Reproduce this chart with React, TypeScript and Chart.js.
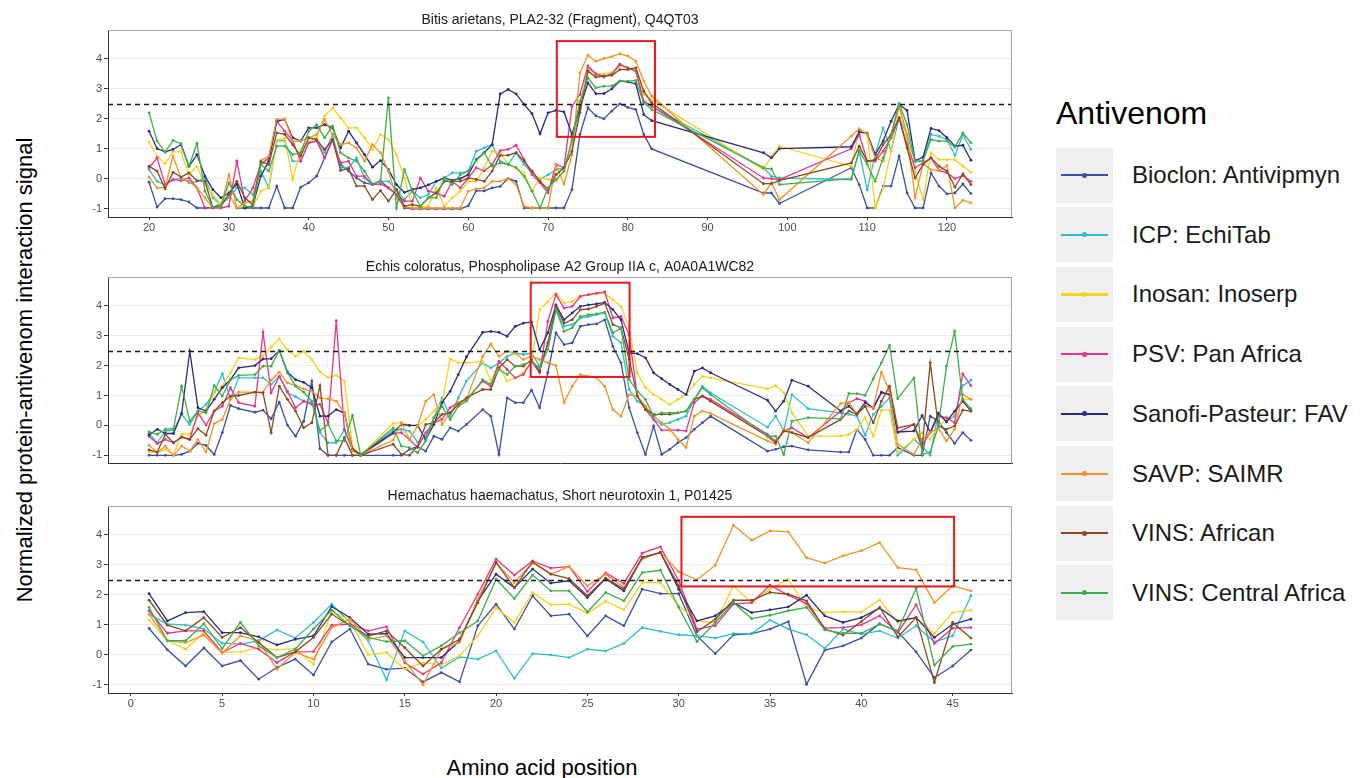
import React, { useEffect, useRef } from 'react';
import { Chart, registerables } from 'chart.js';

Chart.register(...registerables);

const FONT = '"Liberation Sans", Arial, Helvetica, sans-serif';

const ANTIVENOMS = ['Bioclon: Antivipmyn', 'ICP: EchiTab', 'Inosan: Inoserp', 'PSV: Pan Africa', 'Sanofi-Pasteur: FAV', 'SAVP: SAIMR', 'VINS: African', 'VINS: Central Africa'];
const COLORS = ['#3A4FA6', '#2DBFCB', '#F6D21C', '#E8338C', '#2A2B80', '#F39326', '#8B4A1E', '#3FAE48'];

const THRESHOLD = 2.5;
const Y_MIN = -1.27;
const Y_MAX = 4.96;
const Y_TICKS = [-1, 0, 1, 2, 3, 4];

// ---------------- Panel 1 ----------------
const P1_TITLE = 'Bitis arietans, PLA2-32 (Fragment), Q4QT03';
const P1_XTICKS = [20, 30, 40, 50, 60, 70, 80, 90, 100, 110, 120];
const P1_XRANGE = [14.85, 128.15];
const P1_BOX = [71.1, 83.4, 1.4, 4.59];
const P1_POS = [20, 21, 22, 23, 24, 25, 26, 27, 28, 29, 30, 31, 32, 33, 34, 35, 36, 37, 38, 39, 40, 41, 42, 43, 44, 45, 46, 47, 48, 49, 50, 51, 52, 53, 54, 55, 56, 57, 58, 59, 60, 61, 62, 63, 64, 65, 66, 67, 68, 69, 70, 71, 72, 73, 74, 75, 76, 77, 78, 79, 80, 81, 82, 83,
  97, 98, 99,
  108, 109, 110, 111, 112, 113, 114, 115, 116, 117, 118, 119, 120, 121, 122, 123];
const P1_BIOCLON = [-0.11, -0.94, -0.66, -0.66, -0.69, -0.77, -0.97, -0.97, -0.96, -0.83,
  -0.52, -0.97, -0.97, -0.97, -0.97, -0.97, -0.24, -0.97, -0.97, -0.28,
  -0.13, 0.09, 0.7, 1.31, 0.48, 0.26, 0.03, -0.13, -0.19, -0.06,
  -0.3, -0.52, -0.97, -1, -1, -1, -1, -1, -1, -1,
  -0.9, -0.4, -0.4, -0.3, -0.25, 0.01, -0.08, -0.97, -0.97, -0.97,
  -0.97, -0.97, -0.97, -0.36, 1.48, 2.37, 2.1, 2.0, 2.26, 2.5,
  2.38, 2.31, 1.48, 1.0,
  -0.47, -0.47, -0.82,
  0.37, -0.19, -0.97, -0.97, -0.24, -0.24, 0.76, -0.47, -0.97, -0.97, 0.2, -0.24, -0.5, -0.47, -0.17, -0.49];
const P1_ICP = [0.31, -0.08, -0.19, -0.04, 0.03, -0.13, -0.08, 0.03, -0.63, -0.86,
  -0.63, -0.3, -0.3, -0.52, 0.26, -0.3, 1.26, 1.28, 0.59, 0.59,
  1.2, 1.26, 0.87, 1.48, 0.37, 0.37, 0.7, 0.03, -0.19, -0.08,
  -0.08, -0.36, -0.69, -0.41, -0.63, -0.52, -0.08, 0.03, 0.2, 0.2,
  0.26, 0.92, 1.03, 1.14, 0.59, 0.48, 0.87, 0.48, 0.2, -0.02,
  0.14, 0.31, 0.37, 1.2, 2.3, 3.7, 3.48, 3.39, 3.53, 3.83,
  3.7, 3.59, 2.53, 2.42,
  0.37, 0.09, 0.03,
  -0.02, 0.92, -0.36, 0.81, 1.7, 0.94, 2.03, 1.48, 0.57, 0.59, 1.48, 1.42, 1.31, 0.78, 1.48, 0.98];
const P1_INOSAN = [1.22, 0.76, 0.5, 0.9, 0.9, 0.14, 0.42, -0.19, -0.52, -0.86,
  -0.52, -0.97, -0.91, -0.94, -0.41, -0.28, 1.3, 1.35, -0.02, 1.0,
  1.2, 1.4, 2.09, 2.37, 2.03, 1.7, 1.7, 1.37, 0.98, 1.48,
  1.31, 0.81, 0.03, -0.97, -0.94, -0.91, -0.3, -0.91, -0.63, -0.41,
  -0.08, -0.08, 0.37, 0.92, 0.87, 0.48, 0.37, 0.2, -0.41, 0.03,
  -0.02, -0.08, 0.26, 1.26, 2.48, 3.64, 3.5, 3.5, 3.55, 3.76,
  3.7, 3.61, 2.81, 2.64,
  0.31, 0.75, 1.09,
  0.42, 1.64, 1.53, -0.97, -0.3, 0.92, 2.42, 1.37, 0.26, -0.69, 0.87, 0.64, 0.64, 0.64, 0.42, 0.22];
const P1_PSV = [0.37, 0.7, -0.19, -0.02, -0.06, 0.03, -0.3, -0.97, -0.97, -0.97,
  -0.91, 0.59, -0.74, -0.3, 0.48, 0.7, 1.92, 1.59, 1.26, 0.59,
  1.2, 1.26, 0.7, 1.31, 0.53, 0.59, 0.09, 0.09, -0.19, -0.17,
  -0.3, -0.52, -0.74, -0.74, 0.03, -0.41, -0.47, -0.58, -0.08, -0.3,
  0.03, 0.37, 0.26, 0.48, 0.94, 0.98, 1.12, 0.64, 0.14, -0.13,
  -0.47, 0.48, 0.37, 2.42, 2.81, 3.76, 3.5, 3.42, 3.48, 3.81,
  3.7, 3.59, 2.59, 2.42,
  0.03, 0.01, -0.02,
  1.0, 1.48, 0.59, 0.59, 0.92, 1.37, 2.03, 1.14, 0.37, 0.53, 0.7, 0.28, 0.2, 0.01, 0.11, -0.08];
const P1_SANOFI = [1.59, 1.01, 0.9, 0.98, 1.14, 0.42, 0.81, 0.09, -0.36, -0.63,
  -0.47, -0.17, -0.97, -0.91, 0.09, 0.59, 1.92, 1.98, 1.37, 1.26,
  1.7, 1.7, 1.81, 1.7, 1.03, 1.59, 1.2, 0.81, 0.39, 0.61,
  0.31, -0.19, -0.45, -0.35, -0.3, -0.2, -0.08, 0.03, -0.05, 0.01,
  0.14, 0.64, 0.87, 1.14, 2.83, 2.98, 2.83, 2.48, 2.17, 1.5,
  2.2, 2.28, 2.23, 1.48, 2.37, 3.2, 2.84, 2.84, 3.0, 3.26,
  3.23, 3.17, 2.14, 1.94,
  0.87, 0.7, 1.01,
  1.07, 1.57, 1.51, 0.81, 1.26, 1.92, 2.48, 2.28, 0.61, 0.72, 1.68, 1.61, 1.37, 1.09, 1.12, 0.62];
const P1_SAVP = [0.06, -0.3, -0.28, 0.76, 0.03, -0.08, -0.3, -0.63, -0.97, -0.94,
  0.14, -0.97, -0.8, -0.74, 0.61, 0.76, 1.98, 2.0, 1.26, 1.26,
  1.37, 1.48, 1.98, 1.48, 1.14, 1.2, 1.03, 0.59, 1.14, 0.87,
  0.26, -0.63, -0.94, -0.97, -0.97, -0.97, -0.97, -0.97, -0.97, -0.97,
  -0.41, -0.33, -0.3, -0.08, -0.08, 0.01, -0.19, -0.91, -0.97, -0.97,
  -0.97, 0.48, -0.17, 0.81, 3.53, 4.12, 3.92, 4.01, 4.07, 4.17,
  4.09, 3.92, 3.26, 2.76,
  -0.52, -0.13, -0.69,
  1.42, 1.67, 1.48, 0.7, 0.59, 1.48, 2.42, 1.48, -0.63, 0.5, 0.31, 0.28, 0.44, -0.97, -0.71, -0.8];
const P1_VINS_AF = [0.42, 0.26, -0.33, 0.22, 0.06, 0.2, -0.06, -0.08, -0.97, -0.91,
  -0.52, -0.08, -0.63, -0.86, 0.57, 0.48, 1.53, 1.48, 1.14, 0.76,
  1.37, 1.31, 0.98, 1.31, 0.28, 0.34, -0.24, -0.24, -0.69, -0.39,
  -0.74, -0.36, -0.91, -0.86, -0.91, -0.63, -0.47, -0.08, -0.08, -0.08,
  0.03, -0.02, -0.08, 0.26, 0.78, 0.79, 0.87, 0.59, 0.26, -0.08,
  -0.36, 0.14, 0.37, 0.92, 2.2, 3.59, 3.39, 3.42, 3.45, 3.64,
  3.64, 3.7, 2.92, 2.53,
  -0.16, -0.16, -0.06,
  0.53, 1.09, 0.59, 0.64, 1.14, 1.48, 2.03, 1.03, 0.03, 0.48, 0.7, 0.42, 0.26, -0.27, 0.17, -0.19];
const P1_VINS_CA = [2.2, 1.26, 0.89, 1.28, 1.17, 0.42, 1.18, -0.4, -0.97, -0.91,
  -0.13, -0.69, -0.91, -0.97, 0.48, 0.26, 1.09, 1.09, 0.81, 0.87,
  1.59, 1.81, 1.37, 1.76, 0.87, 0.7, 0.59, 0.26, -0.17, -0.08,
  2.7, -0.97, 0.31, -0.41, -0.91, -0.63, -0.63, 0.03, -0.19, 0.14,
  0.26, 0.61, 0.87, 0.42, 0.53, 0.48, 0.37, 0.09, -0.41, -0.97,
  -0.3, -0.02, 0.26, 1.31, 2.59, 3.37, 3.03, 3.09, 3.1, 3.26,
  3.26, 3.28, 2.53, 2.31,
  0.37, 0.33, -0.19,
  0.01, 0.94, 0.48, -0.08, 0.7, 1.48, 2.51, 1.81, 0.59, 0.61, 1.31, 1.26, 1.26, 1.06, 1.53, 1.2];

// ---------------- Panel 2 ----------------
const P2_TITLE = 'Echis coloratus, Phospholipase A2 Group IIA c, A0A0A1WC82';
const P2_XTICKS: number[] = [];
const P2_XRANGE = [-4.05, 107.05];
const P2_BOX = [47.9, 60.05, 1.62, 4.77];
const P2_POS = [1, 2, 3, 4, 5, 6, 7, 8, 9, 10, 11, 12,
  14, 15, 16, 17, 18, 19, 20, 21, 22, 23, 24, 25, 26, 27,
  31,
  32, 33, 34, 35, 36, 37, 38, 39, 40, 42, 43, 44, 45, 46, 47, 48,
  49, 50, 51, 52, 53, 54, 55, 56, 57, 58, 59, 60, 61, 62, 63, 64, 65, 66, 67, 68, 69, 70,
  77, 78, 79, 80, 82,
  86, 87, 88, 89, 90, 91, 92, 93, 95, 96, 97, 98, 99, 100, 101, 102];
const P2_BIOCLON = [-1, -1, -1, -1, -0.97, -0.86, -0.6, -0.67, -0.97, -0.24, 0.67, 0.56,
  0.44, 0.51, 0.22, 0.78, 0.01, -0.36, 0.14, 1.48, -0.78, -1, -1, -1, -1, -1,
  -1,
  -1, -0.8, -0.71, -0.86, -0.36, -0.47, -0.08, -0.19, 0.03, 0.53, 0.31, -0.97, 0.92, 0.76, 0.76, 1.18,
  0.59, 1.76, 3.09, 2.7, 2.76, 3.31, 3.37, 3.39, 3.53, 2.64, 2.09, 0.59, -0.24, -0.97, -0.02, -0.97, -0.8, -0.58, -0.41, -0.13, 0.09, 0.31,
  -0.86, -0.8, -0.71, -0.69, -0.82,
  -0.89, -0.89, -0.13, -0.47, -1, -1, -1, -0.74, -1, -1, 0.31, 0.14, -0.24, -0.6, -0.24, -0.5];
const P2_ICP = [-0.27, -0.58, -0.19, -0.16, 0.37, 0.03, 0.48, 0.7, 1.09, 1.73, 0.87, 1.59,
  1.59, 1.59, 1.37, 1.64, 1.09, 0.96, 0.81, 0.76, -0.24, -0.58, -0.58, -0.16, -0.8, -1,
  -0.16,
  -0.13, -0.19, -0.56, -0.36, 0.26, 0.92, 0.31, 0.92, 1.48, 2.09, 1.92, 2.09, 2.31, 2.42, 2.37, 2.42,
  1.98, 2.7, 3.87, 3.31, 3.37, 3.59, 3.64, 3.7, 3.76, 2.98, 2.76, 1.2, 0.81, 0.64, 0.22, 0.03, 0.09, 0.2, 0.31, 0.87, 1.31, 1.09,
  -0.06, 0.31, -0.17, 1.03, 0.56,
  0.42, 0.37, 0.31, -0.33, 0.37, 0.64, 0.92, -1, -0.47, -0.69, -1, 0.42, 0.14, 0.31, 1.33, 1.51];
const P2_INOSAN = [-0.88, -0.91, -0.8, -1, -0.28, -0.3, 0.31, 0.53, 1.09, 1.33, 1.76, 2.26,
  2.2, 2.33, 2.62, 2.89, 2.53, 2.31, 2.48, 2.2, 1.79, 1.59, 1.68, 1.48, -0.69, -1,
  0.07,
  0.09, 0.0, -0.02, 0.2, 0.48, 0.76, 2.22, 2.09, 2.09, 2.14, 1.48, 1.98, 1.48, 1.59, 1.76, 2.14,
  3.87, 4.14, 4.42, 4.09, 4.14, 4.33, 4.37, 4.4, 4.42, 4.2, 3.98, 3.26, 1.76, 1.26, 1.03, 0.87, 0.7, 0.87, 1.03, 1.37, 1.64, 1.59,
  1.22, 1.33, 1.09, 0.42, -0.36,
  -0.36, -0.3, -0.13, 0.26, -0.36, 0.51, 0.51, -0.91, -0.47, -0.24, -0.47, -0.02, 0.2, 0.42, 0.87, 0.87];
const P2_PSV = [-0.36, -0.61, -0.47, -0.58, -0.39, -0.47, 0.42, 0.01, 0.48, 0.64, 1.26, 0.76,
  0.64, 3.11, 1.09, 1.64, 1.14, 0.59, 0.81, 0.7, 0.7, 0.09, 3.5, -0.13, -0.8, -1,
  -0.27,
  -0.24, -0.47, -0.74, -0.24, 0.09, 0.2, 0.59, 0.76, 0.87, 1.48, 1.31, 2.14, 1.87, 1.59, 1.7, 2.14,
  1.76, 3.48, 4.37, 3.92, 3.98, 4.31, 4.37, 4.42, 4.46, 3.59, 3.64, 3.03, 0.98, 0.53, 0.2, -0.16, -0.16, -0.16, -0.19, 0.76, 0.98, 0.87,
  -0.3, -0.52, -0.19, -0.08, -0.41,
  0.48, 0.76, 0.89, 0.81, 0.56, 1.09, 1.03, -0.24, 0.03, -0.63, -0.24, 0.31, 0.26, 0.09, 1.72, 1.33];
const P2_SANOFI = [-0.32, -0.13, -0.27, -0.27, 0.4, 2.48, 0.59, 0.48, 0.87, 1.26, 1.53, 1.92,
  2.0, 2.22, 2.23, 2.5, 1.79, 1.53, 1.44, 1.26, 0.31, 0.31, 0.53, 0.42, -0.8, -0.97,
  -0.24,
  0.03, 0.0, 0.0, -0.47, 0.03, 0.76, 1.14, 1.7, 2.29, 3.11, 3.14, 3.11, 2.98, 3.31, 3.42, 3.46,
  2.53, 3.09, 4.03, 3.53, 3.76, 3.98, 4.03, 4.06, 4.11, 3.87, 3.53, 2.42, 2.4, 2.26, 1.76, 1.56, 1.37, 1.2, 1.03, 1.81, 1.92, 1.76,
  0.84, 0.48, 0.81, 1.51, 1.31,
  0.48, 0.64, 0.4, 0.76, 0.59, 1.11, 1.03, -0.22, -0.19, 0.33, -0.24, 0.4, 0.12, 0.48, 0.81, 0.48];
const P2_SAVP = [-0.66, -0.91, -0.69, -1, -0.69, -0.86, -0.47, -0.89, 0.06, 0.2, 0.87, 1.11,
  1.11, 1.11, 1.51, 1.78, 1.42, 1.33, 1.22, 1.14, 0.92, 0.89, 0.81, 0.42, -0.86, -1,
  -0.49,
  0.09, -0.47, -0.02, 0.81, 1.03, 0.03, 0.42, 0.76, 0.87, 2.31, 2.72, 2.31, 2.48, 2.42, 2.2, 2.31,
  2.2, 2.09, 2.0, 0.76, 1.31, 1.7, 1.64, 1.59, 1.31, 0.53, 0.31, 1.03, 0.98, 0.64, 0.31, 0.09, -0.13, -0.47, -0.74, 0.31, 0.48, 0.4,
  -0.52, -0.63, -0.13, -0.24, -0.58,
  0.73, 0.78, 0.37, 0.64, 0.59, 1.78, 1.14, -0.63, -0.97, -0.47, -0.24, -0.08, -0.52, -0.13, 1.03, 0.87];
const P2_VINS_AF = [-0.82, -0.89, -0.3, -0.58, -0.39, -0.47, -0.11, -0.33, 0.48, 0.76, 0.98, 1.0,
  1.11, 1.09, -0.24, 1.31, 0.87, 0.48, -0.08, 0.09, 1.33, -1, -1, -0.41, -1, -1,
  -0.63,
  -0.97, -1, -0.69, 0.03, 0.09, 0.37, 0.42, 0.7, 0.92, 1.2, 1.2, 1.92, 2.2, 1.98, 1.98, 2.2,
  1.81, 2.76, 3.98, 3.42, 3.53, 3.87, 3.89, 3.98, 4.09, 3.37, 3.26, 2.2, 0.98, 0.53, 0.37, 0.37, 0.37, 0.42, 0.48, 0.87, 0.98, 0.81,
  -0.36, -0.58, -0.19, -0.24, -0.41,
  0.2, 0.48, 0.37, 0.64, 0.09, 0.81, 1.31, -0.08, 0.03, -0.74, 2.09, -0.02, -0.13, -0.02, 0.51, 0.48];
const P2_VINS_CA = [-0.22, -0.3, -0.13, -0.11, 1.31, 0.14, 0.48, 0.42, 1.33, 0.98, 1.53, 1.67,
  1.7, 1.98, 1.98, 2.51, 1.76, 1.31, 1.11, 0.81, -0.17, 0.03, -0.52, -0.52, 0.33, -1,
  -0.08,
  -0.69, -0.74, -0.91, -0.52, 0.26, 0.64, 0.2, 0.64, 0.81, 1.53, 1.37, 1.87, 1.7, 1.98, 2.03, 2.14,
  1.92, 2.53, 3.87, 3.14, 3.26, 3.64, 3.7, 3.73, 3.78, 3.09, 3.26, 1.53, 1.14, 0.87, 0.31, 0.42, 0.42, 0.42, 0.48, 0.87, 1.26, 1.03,
  -0.36, -0.36, -0.97, 0.14, 0.26,
  0.22, 1.07, 1.06, 1.0, 1.56, 2.09, 2.67, 0.89, 1.59, -0.97, -0.89, -0.02, 1.98, 3.14, 0.87, 0.56];

// ---------------- Panel 3 ----------------
const P3_TITLE = 'Hemachatus haemachatus, Short neurotoxin 1, P01425';
const P3_XTICKS = [0, 5, 10, 15, 20, 25, 30, 35, 40, 45];
const P3_XRANGE = [-1.25, 48.25];
const P3_BOX = [30.15, 45.08, 2.28, 4.6];
const P3_POS = [1, 2, 3, 4, 5, 6, 7, 8, 9, 10, 11, 12, 13, 14, 15, 16, 17, 18, 19, 20, 21, 22, 23, 24, 25, 26, 27, 28, 29, 30, 31, 32, 33, 34, 35, 36, 37, 38, 39, 40, 41, 42, 43, 44, 45, 46];
const P3_BIOCLON = [0.88, 0.17, -0.37, 0.23, -0.37, -0.19, -0.81, -0.42, -0.14, -0.67, 0.43, 0.86, -0.31, -0.48, -0.44, -0.9, -0.59, -0.9, 0.97, 1.69, 0.86, 1.97, 1.3, 1.36, 0.63, 1.3, 0.97, 2.19, 2.04, 2.04, 0.63, 0.04, 0.67, 0.71, 0.86, 1.11, -0.98, 0.16, 0.3, 0.56, 1.04, 0.77, 0.1, -0.76, -0.37, 0.16];
const P3_ICP = [1.36, 1.02, 1.0, 0.86, 0.39, 0.36, 0.47, 0.83, 0.56, 1.08, 1.69, 1.08, 0.47, -0.83, 0.8, 0.43, -0.44, -0.07, -0.14, 0.13, -0.78, 0.04, 0.0, -0.09, 0.19, 0.13, 0.38, 0.91, 0.78, 0.67, 0.63, 0.56, 0.71, 0.71, 1.16, 0.86, 0.67, 0.22, 0.86, 0.69, 0.8, 0.56, 0.97, 0.43, 0.63, 1.97];
const P3_INOSAN = [1.16, 0.47, 0.19, 0.74, 0.08, 0.1, 0.24, 0.17, 0.21, -0.31, 1.47, 1.13, 0.0, 0.08, -0.48, -0.26, -0.33, -0.03, 0.63, 1.58, 1.08, 2.08, 1.67, 1.69, 1.39, 1.78, 1.5, 2.41, 2.41, 1.63, 1.13, 1.08, 2.3, 1.74, 2.19, 2.52, 1.58, 1.41, 1.44, 1.43, 1.83, 1.08, 1.24, 0.71, 1.41, 1.49];
const P3_PSV = [1.47, 0.72, 0.8, 0.8, 0.08, 0.38, 0.19, -0.26, 0.1, 0.11, 0.99, 1.02, 0.8, 0.94, -0.26, -0.64, -0.26, 0.91, 2.02, 3.19, 2.66, 3.13, 2.89, 2.94, 2.11, 2.73, 2.38, 3.39, 3.6, 2.47, 0.86, 0.97, 1.69, 1.74, 2.32, 1.99, 1.71, 0.89, 0.91, 1.0, 1.3, 0.74, 1.67, 0.38, 0.89, 0.91];
const P3_SANOFI = [2.04, 1.13, 1.41, 1.44, 0.74, 0.74, 0.6, 0.33, 0.52, 0.63, 1.61, 1.24, 0.69, 0.71, -0.09, -0.09, -0.09, 0.47, 1.8, 2.69, 2.24, 2.86, 2.39, 2.47, 1.91, 2.54, 2.13, 3.24, 3.41, 2.19, 1.13, 1.3, 1.74, 1.41, 1.5, 1.6, 1.99, 1.3, 1.08, 1.24, 1.56, 1.13, 1.24, 0.58, 1.02, 1.19];
const P3_SAVP = [1.36, 0.47, 0.41, 0.66, 0.06, 0.63, 0.47, -0.48, 0.08, -0.14, 0.91, 1.19, 0.52, 0.63, -0.2, -1.0, 0.19, 0.41, 1.86, 3.06, 2.41, 3.06, 2.69, 2.94, 2.3, 2.69, 2.24, 3.19, 3.43, 2.77, 2.5, 2.99, 4.32, 3.82, 4.13, 4.1, 3.24, 3.06, 3.3, 3.47, 3.74, 2.91, 2.83, 1.74, 2.3, 2.13];
const P3_VINS_AF = [1.82, 0.99, 0.8, 1.24, 0.58, 0.91, 0.41, -0.09, 0.1, 0.58, 1.36, 0.97, 0.63, 0.8, 0.24, -0.37, 0.19, 0.52, 1.74, 3.08, 2.24, 3.1, 2.69, 2.54, 1.97, 2.56, 2.19, 3.24, 3.41, 2.3, 0.77, 1.19, 1.82, 1.82, 2.08, 2.02, 1.8, 0.86, 0.66, 1.11, 1.58, 0.6, 1.24, -0.92, 1.08, 0.56];
const P3_VINS_CA = [1.58, 0.47, 0.47, 1.04, 0.21, 1.08, 0.3, -0.09, 0.19, 0.86, 1.49, 0.97, 0.58, 0.44, 0.47, -0.03, 0.3, 0.74, 1.13, 2.52, 1.88, 2.66, 2.13, 2.13, 1.43, 2.08, 1.8, 2.74, 2.82, 1.58, 0.44, 1.08, 1.74, 1.21, 1.32, 1.47, 1.58, 0.83, 0.72, 0.72, 1.02, 0.8, 2.22, -0.34, 0.28, 0.36];

const PANELS = [
  { title: P1_TITLE, pos: P1_POS, xr: P1_XRANGE, xticks: P1_XTICKS, box: P1_BOX, top: 8, xh: 24,
    series: [P1_BIOCLON, P1_ICP, P1_INOSAN, P1_PSV, P1_SANOFI, P1_SAVP, P1_VINS_AF, P1_VINS_CA] },
  { title: P2_TITLE, pos: P2_POS, xr: P2_XRANGE, xticks: P2_XTICKS, box: P2_BOX, top: 255, xh: 8,
    series: [P2_BIOCLON, P2_ICP, P2_INOSAN, P2_PSV, P2_SANOFI, P2_SAVP, P2_VINS_AF, P2_VINS_CA] },
  { title: P3_TITLE, pos: P3_POS, xr: P3_XRANGE, xticks: P3_XTICKS, box: P3_BOX, top: 484, xh: 24,
    series: [P3_BIOCLON, P3_ICP, P3_INOSAN, P3_PSV, P3_SANOFI, P3_SAVP, P3_VINS_AF, P3_VINS_CA] },
];

const CANVAS_LEFT = 60;
const CANVAS_W = 960;
const PAD_TOP = 22;
const PLOT_H = 187;

const decorPlugin = {
  id: 'decor',
  afterDatasetsDraw(chart: any, _args: any, opts: any) {
    const { ctx, chartArea: a } = chart;
    const x = chart.scales.x;
    const y = chart.scales.y;
    ctx.save();
    ctx.beginPath();
    ctx.rect(a.left, a.top, a.right - a.left, a.bottom - a.top);
    ctx.clip();
    const yy = Math.round(y.getPixelForValue(THRESHOLD)) + 0.5;
    ctx.setLineDash([5, 4]);
    ctx.strokeStyle = '#1A1A1A';
    ctx.lineWidth = 1.3;
    ctx.beginPath();
    ctx.moveTo(a.left, yy);
    ctx.lineTo(a.right, yy);
    ctx.stroke();
    ctx.setLineDash([]);
    const b = opts.box;
    const x0 = x.getPixelForValue(b[0]);
    const x1 = x.getPixelForValue(b[1]);
    const y0 = y.getPixelForValue(b[3]);
    const y1 = y.getPixelForValue(b[2]);
    ctx.strokeStyle = '#E8161B';
    ctx.lineWidth = 2;
    ctx.strokeRect(x0, y0, x1 - x0, y1 - y0);
    ctx.restore();
  },
  afterDraw(chart: any, _args: any, opts: any) {
    const { ctx, chartArea: a } = chart;
    ctx.save();
    ctx.strokeStyle = '#A6A6A6';
    ctx.lineWidth = 1;
    ctx.beginPath();
    ctx.moveTo(a.left, a.top + 0.5);
    ctx.lineTo(a.right - 0.5, a.top + 0.5);
    ctx.lineTo(a.right - 0.5, a.bottom);
    ctx.stroke();
    ctx.font = `14px ${FONT}`;
    ctx.fillStyle = '#1A1A1A';
    ctx.textAlign = 'center';
    ctx.textBaseline = 'middle';
    ctx.fillText(opts.title, (a.left + a.right) / 2, a.top - 10);
    ctx.restore();
  },
};

function buildConfig(p: any): any {
  const showX = p.xticks.length > 0;
  return {
    type: 'line',
    data: {
      datasets: p.series.map((vals: number[], i: number) => ({
        label: ANTIVENOMS[i],
        data: p.pos.map((xv: number, k: number) => ({ x: xv, y: vals[k] })),
        borderColor: COLORS[i],
        backgroundColor: COLORS[i],
        pointBackgroundColor: COLORS[i],
        pointBorderWidth: 0,
        pointRadius: 1.4,
        pointHoverRadius: 1.4,
        borderWidth: 1.3,
        tension: 0,
        order: -i,
      })),
    },
    options: {
      animation: false,
      responsive: false,
      maintainAspectRatio: false,
      events: [],
      layout: { padding: { top: PAD_TOP, right: 8, left: 0, bottom: 0 } },
      plugins: {
        legend: { display: false },
        tooltip: { enabled: false },
        title: { display: false },
        decor: { title: p.title, box: p.box },
      },
      scales: {
        x: {
          type: 'linear',
          min: p.xr[0],
          max: p.xr[1],
          afterBuildTicks: (s: any) => { s.ticks = p.xticks.map((v: number) => ({ value: v })); },
          afterFit: (s: any) => { s.height = p.xh; },
          grid: { drawOnChartArea: false, drawTicks: showX, tickLength: 3, tickColor: '#333333', color: '#333333' },
          border: { display: true, color: '#333333', width: 1 },
          ticks: { display: showX, color: '#4D4D4D', font: { family: FONT, size: 11 }, padding: 1, maxRotation: 0, autoSkip: false },
        },
        y: {
          type: 'linear',
          min: Y_MIN,
          max: Y_MAX,
          afterBuildTicks: (s: any) => { s.ticks = Y_TICKS.map((v) => ({ value: v })); },
          afterFit: (s: any) => { s.width = 48; },
          grid: { color: '#EBEBEB', lineWidth: 1, drawTicks: true, tickLength: 4, tickColor: '#333333' },
          border: { display: true, color: '#333333', width: 1 },
          ticks: { color: '#4D4D4D', font: { family: FONT, size: 11 }, padding: 2, autoSkip: false },
        },
      },
    },
    plugins: [decorPlugin],
  };
}

export default function App() {
  const r0 = useRef<HTMLCanvasElement>(null);
  const r1 = useRef<HTMLCanvasElement>(null);
  const r2 = useRef<HTMLCanvasElement>(null);
  const refs = [r0, r1, r2];

  useEffect(() => {
    const charts = PANELS.map((p, i) => new Chart(refs[i].current as HTMLCanvasElement, buildConfig(p)));
    return () => charts.forEach((c) => c.destroy());
  }, []);

  return (
    <div style={{ position: 'absolute', left: 0, top: 0, width: 1372, height: 778, background: '#FFFFFF', fontFamily: FONT, overflow: 'hidden' }}>
      {PANELS.map((p, i) => {
        const h = PAD_TOP + PLOT_H + p.xh;
        return (
          <canvas
            key={i}
            ref={refs[i]}
            width={CANVAS_W}
            height={h}
            style={{ position: 'absolute', left: CANVAS_LEFT, top: p.top, width: CANVAS_W, height: h, display: 'block' }}
          />
        );
      })}
      <div style={{ position: 'absolute', left: 25 - 300, top: 370 - 15, width: 600, height: 30, lineHeight: '30px', fontSize: 22, color: '#000', textAlign: 'center', transform: 'rotate(-90deg)', whiteSpace: 'nowrap' }}>
        Normalized protein-antivenom interaction signal
      </div>
      <div style={{ position: 'absolute', left: 342, top: 768 - 15, width: 400, height: 30, lineHeight: '30px', fontSize: 22, color: '#000', textAlign: 'center', whiteSpace: 'nowrap' }}>
        Amino acid position
      </div>
      <div style={{ position: 'absolute', left: 1056, top: 95, fontSize: 32, lineHeight: '36px', color: '#000', whiteSpace: 'nowrap' }}>Antivenom</div>
      {ANTIVENOMS.map((name, i) => {
        const cy = 175 + i * 59.7;
        return (
          <React.Fragment key={name}>
            <div style={{ position: 'absolute', left: 1056, top: cy - 27.5, width: 57, height: 55, background: '#EFEFF2' }}>
              <div style={{ position: 'absolute', left: 5, top: 26.5, width: 47, height: 2.2, background: COLORS[i] }} />
              <div style={{ position: 'absolute', left: 26, top: 25, width: 5, height: 5, borderRadius: '50%', background: COLORS[i] }} />
            </div>
            <div style={{ position: 'absolute', left: 1132, top: cy - 14, fontSize: 24, lineHeight: '28px', color: '#1A1A1A', whiteSpace: 'nowrap' }}>{name}</div>
          </React.Fragment>
        );
      })}
    </div>
  );
}
